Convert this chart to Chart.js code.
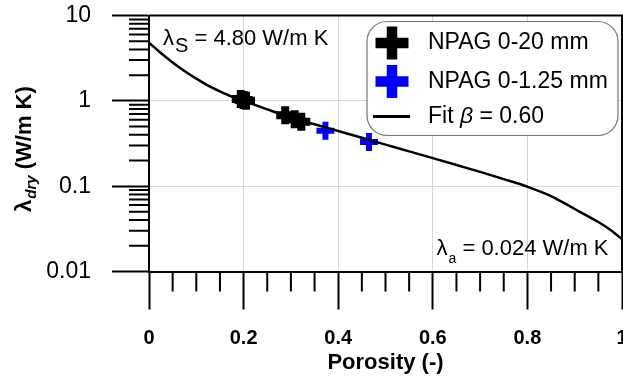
<!DOCTYPE html>
<html><head><meta charset="utf-8">
<script src="https://cdn.jsdelivr.net/npm/chart.js@4/dist/chart.umd.min.js"></script>
<style>html,body{margin:0;padding:0;background:#fff}#wrap{width:623px;height:376px}</style>
</head><body><div id="wrap"><canvas id="c" width="623" height="376"></canvas></div>
<script>
// ---------- data ----------
const fitPorosity = [0, 0.025, 0.05, 0.075, 0.1, 0.125, 0.15, 0.175, 0.2, 0.25, 0.3, 0.35, 0.4, 0.45, 0.5, 0.55, 0.6, 0.65, 0.7, 0.75, 0.8, 0.85, 0.9, 0.95, 0.975, 1.0];
const fitLambda   = [4.80, 3.63, 2.82, 2.24, 1.82, 1.51, 1.29, 1.12, 1.00, 0.794, 0.638, 0.531, 0.443, 0.369, 0.307, 0.256, 0.213, 0.177, 0.147, 0.1210, 0.0985, 0.0765, 0.0540, 0.0380, 0.0309, 0.024];
const coarsePorosity = [0.194, 0.200, 0.205, 0.288, 0.308, 0.322];
const coarseLambda   = [1.05, 1.02, 1.00, 0.68, 0.61, 0.57];
const finePorosity = [0.373, 0.465];
const fineLambda   = [0.445, 0.330];
const seriesLabels = ['Fit β = 0.60', 'NPAG 0-20 mm', 'NPAG 0-1.25 mm'];
const xTickValues = [0, 0.2, 0.4, 0.6, 0.8, 1];
const xTickLabels = ['0', '0.2', '0.4', '0.6', '0.8', '1'];
const xMinorTicks = [0.05, 0.1, 0.15, 0.25, 0.3, 0.35, 0.45, 0.5, 0.55, 0.65, 0.7, 0.75, 0.85, 0.9, 0.95];
const yTickValues = [0.01, 0.1, 1, 10];
const yTickLabels = ['0.01', '0.1', '1', '10'];
const yMinorTicks = [0.02,0.03,0.04,0.05,0.06,0.07,0.08,0.09,0.2,0.3,0.4,0.5,0.6,0.7,0.8,0.9,2,3,4,5,6,7,8,9];
const xTitle = 'Porosity (-)';
const annotS = {sym: 'λ', sub: 'S', rest: ' = 4.80 W/m K'};
const annotA = {sym: 'λ', sub: 'a', rest: ' = 0.024 W/m K'};

// ---------- chart ----------
const FONT = "'Liberation Sans', Arial, Helvetica, sans-serif";
const pts = (xs, ys) => xs.map((x, i) => ({x, y: ys[i]}));

const decor = {
  id: 'decor',
  afterDraw(chart) {
    const ctx = chart.ctx, a = chart.chartArea;
    const xs = chart.scales.x, ys = chart.scales.y;
    ctx.save();
    // frame (top & right)
    ctx.strokeStyle = '#000'; ctx.lineWidth = 2;
    ctx.beginPath();
    ctx.moveTo(a.left, a.top); ctx.lineTo(a.right, a.top); ctx.lineTo(a.right, a.bottom);
    ctx.stroke();
    // minor ticks
    ctx.beginPath();
    yMinorTicks.forEach(v => { const p = ys.getPixelForValue(v); ctx.moveTo(a.left - 20, p); ctx.lineTo(a.left, p); });
    xMinorTicks.forEach(v => { const p = xs.getPixelForValue(v); ctx.moveTo(p, a.bottom); ctx.lineTo(p, a.bottom + 20); });
    ctx.stroke();

    // annotations
    function annot(o, x, base, subFont, subShift) {
      ctx.fillStyle = '#000'; ctx.textBaseline = 'alphabetic'; ctx.textAlign = 'left';
      ctx.font = '22px ' + FONT;
      ctx.fillText(o.sym, x, base); x += ctx.measureText(o.sym).width + 1;
      ctx.font = subFont;
      ctx.fillText(o.sub, x, base + subShift); x += ctx.measureText(o.sub).width;
      ctx.font = '22px ' + FONT;
      ctx.fillText(o.rest, x, base);
    }
    annot(annotS, xs.getPixelForValue(0) + 14, ys.getPixelForValue(10) + 29, '20px ' + FONT, 7);
    annot(annotA, xs.getPixelForValue(0.61) - 1, ys.getPixelForValue(0.01) - 17, '14px ' + FONT, 8);

    // legend
    const lx = a.right - 255, ly = a.top + 6, lw = 251, lh = 114;
    ctx.beginPath();
    ctx.roundRect(lx, ly, lw, lh, 20);
    ctx.fillStyle = '#fff'; ctx.fill();
    ctx.strokeStyle = '#777'; ctx.lineWidth = 1.2; ctx.stroke();
    const ds = chart.data.datasets;
    const rows = [{d: ds[1], cy: ly + 21.5}, {d: ds[2], cy: ly + 60}, {d: ds[0], cy: ly + 95}];
    const sx = lx + 25, tx = lx + 61;
    rows.forEach(r => {
      const d = r.d;
      if (d.pointRadius > 0) {
        ctx.strokeStyle = d.borderColor; ctx.lineWidth = 10.5;
        ctx.beginPath();
        ctx.moveTo(sx - 16.5, r.cy); ctx.lineTo(sx + 16.5, r.cy);
        ctx.moveTo(sx, r.cy - 16.5); ctx.lineTo(sx, r.cy + 16.5);
        ctx.stroke();
      } else {
        ctx.strokeStyle = d.borderColor; ctx.lineWidth = 3;
        ctx.beginPath(); ctx.moveTo(sx - 19, r.cy); ctx.lineTo(sx + 18, r.cy); ctx.stroke();
      }
      ctx.fillStyle = '#000'; ctx.textBaseline = 'middle'; ctx.textAlign = 'left';
      const parts = d.label.split('β');
      let x = tx;
      ctx.font = '23px ' + FONT;
      ctx.fillText(parts[0], x, r.cy); x += ctx.measureText(parts[0]).width;
      if (parts.length > 1) {
        ctx.font = 'italic 23px ' + FONT;
        ctx.fillText('β', x, r.cy); x += ctx.measureText('β').width;
        ctx.font = '23px ' + FONT;
        ctx.fillText(parts[1], x, r.cy);
      }
    });

    // y title (rotated)
    ctx.translate(31, 212); ctx.rotate(-Math.PI / 2);
    ctx.fillStyle = '#000'; ctx.textBaseline = 'alphabetic'; ctx.textAlign = 'left';
    let x = 0;
    ctx.font = 'bold 22px ' + FONT;
    ctx.fillText('λ', x, 0); x += ctx.measureText('λ').width + 1;
    ctx.font = 'italic bold 15px ' + FONT;
    ctx.fillText('dry', x, 5); x += ctx.measureText('dry').width;
    ctx.font = 'bold 22px ' + FONT;
    ctx.fillText(' (W/m K)', x, 0);
    ctx.restore();
  }
};

new Chart(document.getElementById('c'), {
  type: 'scatter',
  data: {
    datasets: [
      { type: 'line', label: seriesLabels[0], data: pts(fitPorosity, fitLambda), borderColor: '#000', borderWidth: 2.5,
        pointRadius: 0, fill: false, cubicInterpolationMode: 'monotone' },
      { label: seriesLabels[1], data: pts(coarsePorosity, coarseLambda), pointStyle: 'cross', pointRadius: 9,
        pointBorderWidth: 8, borderColor: '#000', backgroundColor: '#000' },
      { label: seriesLabels[2], data: pts(finePorosity, fineLambda), pointStyle: 'cross', pointRadius: 9,
        pointBorderWidth: 6, borderColor: '#0000ff', backgroundColor: '#0000ff' }
    ]
  },
  options: {
    responsive: false, animation: false,
    layout: { autoPadding: false, padding: { top: 15.5, right: 1, left: 0, bottom: 0 } },
    plugins: { legend: { display: false }, tooltip: { enabled: false } },
    scales: {
      x: {
        type: 'linear', min: 0, max: 1,
        afterBuildTicks: s => { s.ticks = xTickValues.map(v => ({value: v})); },
        afterFit: s => { s.height = 104.5; s.paddingLeft = 0; s.paddingRight = 0; },
        ticks: { callback: (v, i) => xTickLabels[i], color: '#000', padding: 17, maxRotation: 0, autoSkip: false,
                 font: { family: FONT, size: 20, weight: 'bold' } },
        grid: { color: c => (c.tick && c.tick.value > 0 && c.tick.value < 1) ? '#d6d6d6' : 'rgba(0,0,0,0)',
                lineWidth: 1, tickColor: '#000', tickWidth: 2, tickLength: 38 },
        border: { display: true, color: '#000', width: 2 },
        title: { display: true, text: xTitle, color: '#000', padding: 0, font: { family: FONT, size: 22, weight: 'bold' } }
      },
      y: {
        type: 'logarithmic', min: 0.01, max: 10,
        afterBuildTicks: s => { s.ticks = yTickValues.map(v => ({value: v, major: true})); },
        afterFit: s => { s.width = 149; s.paddingTop = 0; s.paddingBottom = 0; },
        ticks: { callback: (v, i) => yTickLabels[i], color: '#000', padding: 21, autoSkip: false,
                 font: { family: FONT, size: 23 } },
        grid: { color: c => (c.tick && c.tick.value > 0.01 && c.tick.value < 10) ? '#d6d6d6' : 'rgba(0,0,0,0)',
                lineWidth: 1, tickColor: '#000', tickWidth: 2, tickLength: 37 },
        border: { display: true, color: '#000', width: 2 }
      }
    }
  },
  plugins: [decor]
});
</script></body></html>
